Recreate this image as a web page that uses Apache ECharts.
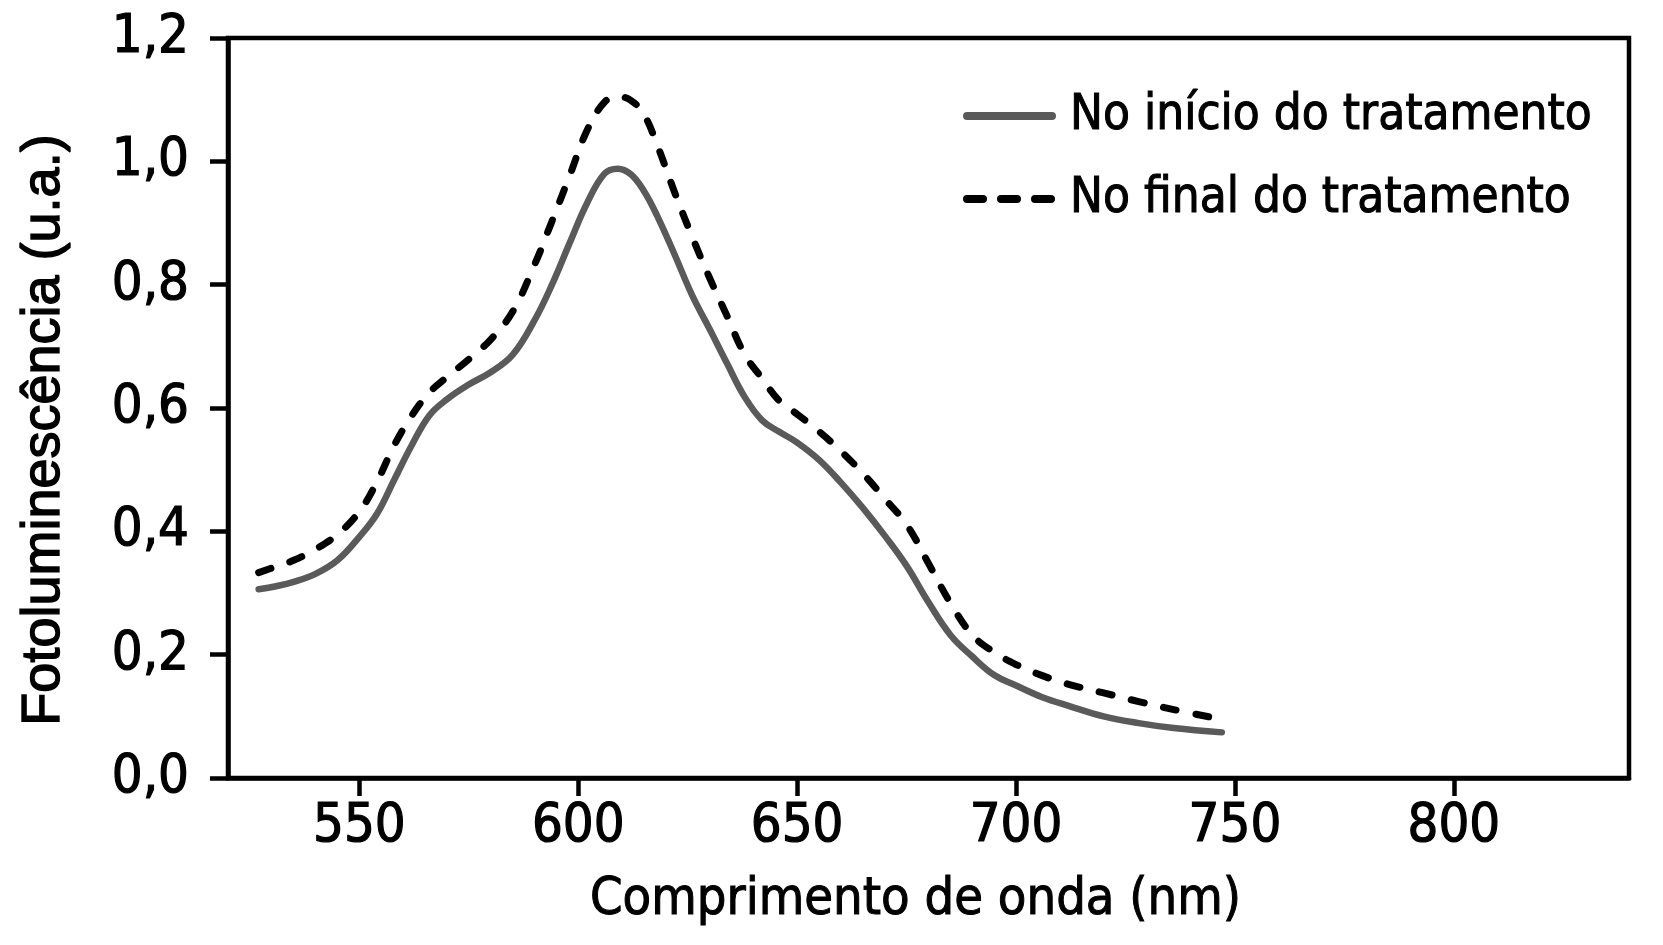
<!DOCTYPE html>
<html>
<head>
<meta charset="utf-8">
<script src="https://cdn.jsdelivr.net/npm/echarts@6/dist/echarts.min.js"></script>
<style>
  html, body { margin: 0; padding: 0; background: #fff; }
  #chart { width: 1663px; height: 945px; }
</style>
</head>
<body>
<div id="chart"></div>
<script>
// Wavelengths (nm)
const wavelengths = [527, 531, 535, 540, 545, 550, 554, 558, 562, 566, 570, 575, 580, 585, 590, 594, 598, 602, 606, 609, 612, 615, 618, 622, 626, 630, 634, 638, 642, 646, 650, 655, 660, 665, 670, 675, 680, 685, 690, 695, 700, 706, 712, 720, 728, 736, 747];
// Photoluminescence at start of treatment (solid grey)
const inicio = [0.306, 0.311, 0.318, 0.331, 0.353, 0.391, 0.428, 0.484, 0.540, 0.588, 0.614, 0.638, 0.658, 0.686, 0.742, 0.800, 0.867, 0.932, 0.980, 0.988, 0.979, 0.952, 0.912, 0.849, 0.783, 0.728, 0.672, 0.618, 0.580, 0.561, 0.544, 0.516, 0.479, 0.438, 0.393, 0.344, 0.285, 0.232, 0.197, 0.167, 0.150, 0.131, 0.117, 0.100, 0.089, 0.081, 0.074];
// Photoluminescence at end of treatment (dashed black)
const final = [0.333, 0.343, 0.353, 0.371, 0.395, 0.432, 0.480, 0.540, 0.588, 0.625, 0.650, 0.679, 0.711, 0.756, 0.832, 0.903, 0.976, 1.050, 1.096, 1.105, 1.099, 1.076, 1.027, 0.950, 0.878, 0.811, 0.749, 0.687, 0.648, 0.611, 0.590, 0.562, 0.530, 0.494, 0.453, 0.411, 0.348, 0.284, 0.232, 0.204, 0.184, 0.166, 0.152, 0.138, 0.124, 0.111, 0.095];

const xTickValues = [550, 600, 650, 700, 750, 800];
const yTickValues = [0, 0.2, 0.4, 0.6, 0.8, 1.0, 1.2];
const seriesNames = ['No início do tratamento', 'No final do tratamento'];

const narrow = "'DejaVu Sans Condensed', 'Liberation Sans Narrow', sans-serif";
const dashPattern = [13, 20];
const legendDash = [16, 18];

const chart = echarts.init(document.getElementById('chart'), null, { renderer: 'canvas' });

const option = {
  backgroundColor: '#ffffff',
  animation: false,
  grid: {
    left: 228, top: 38, right: 34, bottom: 167,
    show: true, borderColor: '#000', borderWidth: 4.5, backgroundColor: 'transparent'
  },
  legend: {
    orient: 'vertical',
    left: 958, top: 81,
    itemWidth: 85, itemHeight: 30, itemGap: 23,
    textStyle: { fontFamily: narrow, fontSize: 49, lineHeight: 60, color: '#000', padding: [0, 0, 0, 13],
      textBorderColor: '#000', textBorderWidth: 1 },
    data: [
      { name: seriesNames[0], itemStyle: { opacity: 0 },
        lineStyle: { color: '#5a5a5a', width: 8, type: 'solid', cap: 'round' } },
      { name: seriesNames[1], itemStyle: { opacity: 0 },
        lineStyle: { color: '#000', width: 8, type: legendDash, cap: 'round' } }
    ]
  },
  xAxis: {
    type: 'value',
    min: 520, max: 840,
    name: 'Comprimento de onda (nm)',
    nameLocation: 'middle',
    nameGap: 92,
    nameTextStyle: { fontFamily: narrow, fontSize: 52, lineHeight: 61, color: '#000', padding: [0, 26, 0, 0],
      textBorderColor: '#000', textBorderWidth: 1 },
    axisLine: { show: true, lineStyle: { color: '#000', width: 4.5 } },
    axisTick: { show: true, inside: false, length: 18, lineStyle: { color: '#000', width: 4.5 }, customValues: xTickValues },
    axisLabel: { fontFamily: narrow, fontSize: 54, lineHeight: 54, color: '#000', margin: 22, customValues: xTickValues,
      textBorderColor: '#000', textBorderWidth: 1.2,
      formatter: v => String(v) },
    splitLine: { show: false }
  },
  yAxis: {
    type: 'value',
    min: 0, max: 1.2, interval: 0.2,
    name: 'Fotoluminescência (u.a.)',
    nameLocation: 'middle',
    nameGap: 154,
    nameTextStyle: { fontFamily: "'Liberation Sans', Arial, sans-serif", fontSize: 54, lineHeight: 60, color: '#000', padding: [0, 44, 0, 0],
      textBorderColor: '#000', textBorderWidth: 1.4 },
    axisLine: { show: true, lineStyle: { color: '#000', width: 4.5 } },
    axisTick: { show: true, inside: false, length: 18, lineStyle: { color: '#000', width: 4.5 }, customValues: yTickValues },
    axisLabel: { fontFamily: narrow, fontSize: 54, lineHeight: 54, color: '#000', margin: 39,
      textBorderColor: '#000', textBorderWidth: 1.2,
      formatter: v => v.toFixed(1).replace('.', ',') },
    splitLine: { show: false }
  },
  series: [
    {
      name: seriesNames[0],
      type: 'line',
      data: wavelengths.map((w, i) => [w, inicio[i]]),
      smooth: 0.4,
      symbol: 'none',
      lineStyle: { color: '#5a5a5a', width: 6.5, cap: 'round', join: 'round' },
      itemStyle: { color: '#5a5a5a' },
      z: 3
    },
    {
      name: seriesNames[1],
      type: 'line',
      data: wavelengths.map((w, i) => [w, final[i]]),
      smooth: 0.4,
      symbol: 'none',
      lineStyle: { color: '#000', width: 7, type: dashPattern, cap: 'round', join: 'round' },
      itemStyle: { color: '#000' },
      z: 4
    }
  ]
};

chart.setOption(option);
</script>
</body>
</html>
